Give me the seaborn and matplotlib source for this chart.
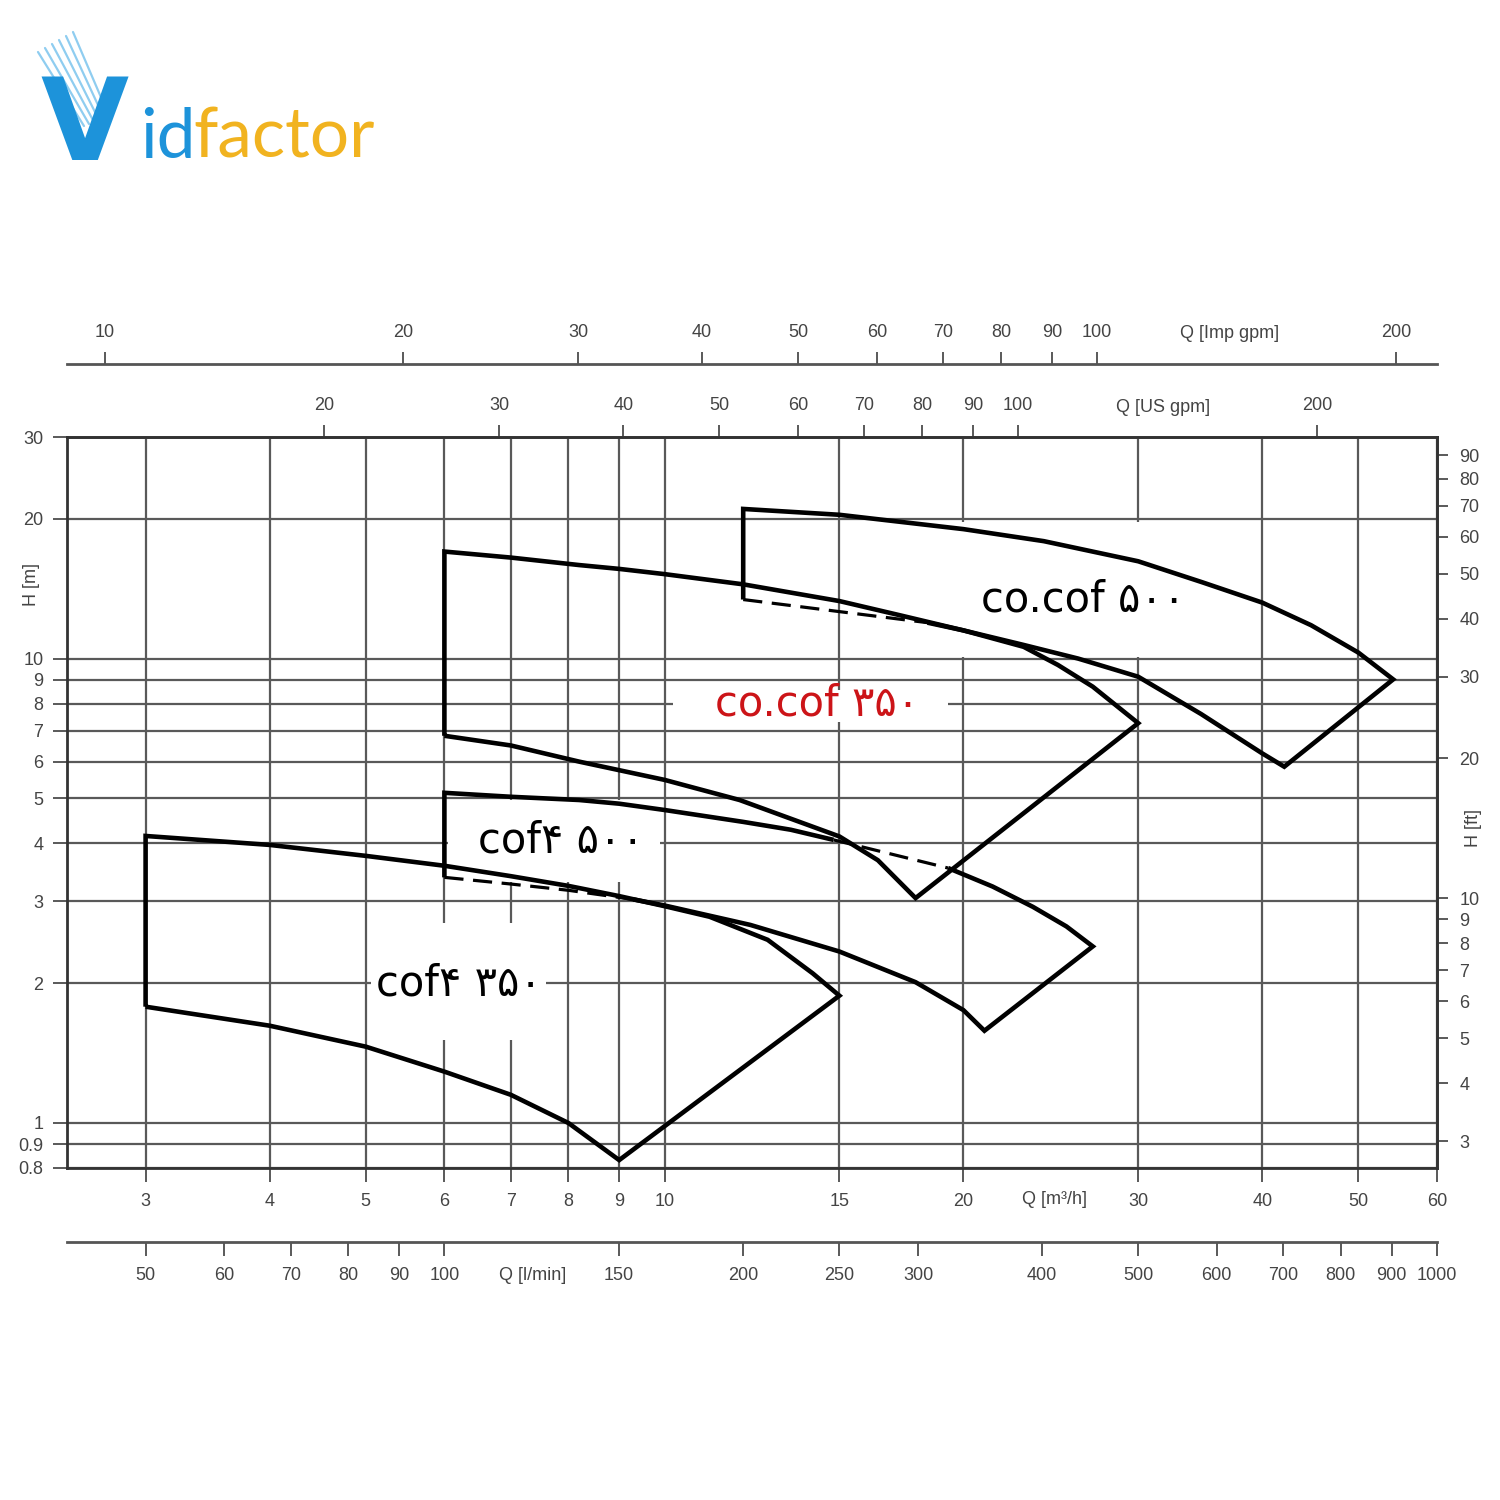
import matplotlib
matplotlib.use('Agg')
import numpy as np
import pandas as pd
import matplotlib.pyplot as plt
import seaborn as sns
from matplotlib.patches import Rectangle
from matplotlib.ticker import NullLocator
from matplotlib.lines import Line2D

# ---------------- data ----------------
q_m3h_ticks = [3, 4, 5, 6, 7, 8, 9, 10, 15, 20, 30, 40, 50, 60]
h_m_ticks = [0.8, 0.9, 1, 2, 3, 4, 5, 6, 7, 8, 9, 10, 20, 30]
h_m_labels = ['0.8', '0.9', '1', '2', '3', '4', '5', '6', '7', '8', '9', '10', '20', '30']
h_ft_ticks = [3, 4, 5, 6, 7, 8, 9, 10, 20, 30, 40, 50, 60, 70, 80, 90]
q_usgpm_ticks = [20, 30, 40, 50, 60, 70, 80, 90, 100, 200]
q_impgpm_ticks = [10, 20, 30, 40, 50, 60, 70, 80, 90, 100, 200]
q_lmin_ticks = [50, 60, 70, 80, 90, 100, 150, 200, 250, 300, 400, 500, 600, 700, 800, 900, 1000]

# cof4 350
c4_350_top_q = [3, 4, 5, 6, 7, 8, 9, 10, 11.1, 12.7, 14.1, 15]
c4_350_top_h = [4.15, 3.97, 3.76, 3.58, 3.40, 3.24, 3.08, 2.93, 2.78, 2.48, 2.10, 1.88]
c4_350_bot_q = [3, 4, 5, 6, 7, 8, 9]
c4_350_bot_h = [1.78, 1.62, 1.46, 1.29, 1.15, 1.00, 0.832]

# cof4 500
c4_500_top_q = [6, 7, 8.2, 9, 10, 12, 13.4, 14.8]
c4_500_top_h = [5.14, 5.04, 4.96, 4.87, 4.72, 4.45, 4.28, 4.07]
c4_500_topdash_q = [14.8, 19.3]
c4_500_topdash_h = [4.07, 3.54]
c4_500_top2_q = [19.3, 21.4, 23.5, 25.4, 27.0]
c4_500_top2_h = [3.54, 3.23, 2.92, 2.65, 2.40]
c4_500_botdash_q = [6, 7, 8, 9.3]
c4_500_botdash_h = [3.38, 3.27, 3.17, 3.03]
c4_500_bot_q = [9.3, 10, 12.2, 15, 17.9, 20, 21.0]
c4_500_bot_h = [3.03, 2.94, 2.67, 2.34, 2.01, 1.75, 1.58]

# co.cof 350
cc_350_top_q = [6, 7, 8.2, 9, 10, 12, 15, 17.25, 20, 23, 24.9, 27, 30]
cc_350_top_h = [17.0, 16.5, 15.9, 15.6, 15.2, 14.45, 13.3, 12.4, 11.5, 10.6, 9.69, 8.70, 7.26]
cc_350_bot_q = [6, 7, 8.2, 10, 11.9, 15, 16.4, 17.9]
cc_350_bot_h = [6.82, 6.5, 6.0, 5.48, 4.96, 4.14, 3.68, 3.05]

# co.cof 500
cc_500_top_q = [12, 15, 20, 24.1, 30, 34.8, 40, 44.8, 50, 54.2]
cc_500_top_h = [21.0, 20.4, 19.0, 17.9, 16.2, 14.6, 13.2, 11.8, 10.3, 9.02]
cc_500_botdash_q = [12, 18.4]
cc_500_botdash_h = [13.4, 11.95]
cc_500_bot_q = [18.4, 20, 23, 26.1, 30, 34.7, 40, 42.1]
cc_500_bot_h = [11.95, 11.5, 10.7, 10.0, 9.14, 7.6, 6.25, 5.85]

labels_text = ['co.cof ۵۰۰', 'co.cof ۳۵۰', 'cof۴ ۵۰۰', 'cof۴ ۳۵۰']
labels_q = [26.4, 14.24, 7.87, 6.2]
labels_h = [13.4, 8.0, 4.05, 2.0]
labels_color = ['black', '#cc1418', 'black', 'black']

M3H_TO_USGPM = 4.40287
M3H_TO_IMPGPM = 3.66615
M3H_TO_LMIN = 16.6667
M_TO_FT = 3.28084

# ---------------- style ----------------
sns.set_theme(style='ticks')
plt.rcParams['font.family'] = ['Liberation Sans', 'DejaVu Sans']

W = H_PX = 1500.0
def fx(px):
    return px / W
def fy(py):
    return 1 - py / H_PX

fig = plt.figure(figsize=(15, 15), dpi=100)
fig.patch.set_facecolor('white')
ax = fig.add_axes([fx(67), fy(1168), 1370 / W, 731 / H_PX])
ax.set_facecolor('white')
ax.set_xscale('log')
ax.set_yscale('log')
ax.set_xlim(2.5, 60)
ax.set_ylim(0.8, 30)

GRID = '#595959'
TXT = '#444444'
ax.set_xticks(q_m3h_ticks, labels=[str(v) for v in q_m3h_ticks])
ax.set_yticks(h_m_ticks, labels=h_m_labels)
ax.xaxis.set_minor_locator(NullLocator())
ax.yaxis.set_minor_locator(NullLocator())
ax.grid(True, which='major', color=GRID, linewidth=1.6)
ax.set_axisbelow(True)
ax.tick_params(axis='x', which='major', direction='out', length=10, width=1.4,
               color=GRID, labelsize=13, labelcolor=TXT, pad=8, top=False)
ax.tick_params(axis='y', which='major', direction='out', length=10, width=1.4,
               color=GRID, labelsize=13, labelcolor=TXT, pad=7, right=False)
for s in ax.spines.values():
    s.set_color('#333333')
    s.set_linewidth(2)

# white boxes behind labels (erased grid areas)
boxes = [((19.7, 10.1), (34.0, 19.7)),
         ((10.2, 7.3), (19.3, 8.56)),
         ((6.05, 3.3), (9.9, 4.97)),
         ((5.06, 1.51), (7.59, 2.70))]
for (q0, h0), (q1, h1) in boxes:
    ax.add_patch(Rectangle((q0, h0), q1 - q0, h1 - h0, facecolor='white',
                           edgecolor='none', zorder=1))


def draw(q, h, dashed=False):
    df = pd.DataFrame({'Q': q, 'H': h})
    if dashed:
        sns.lineplot(data=df, x='Q', y='H', ax=ax, color='black', linewidth=2.3,
                     linestyle=(0, (6, 3)), sort=False, estimator=None,
                     legend=False, zorder=3)
    else:
        sns.lineplot(data=df, x='Q', y='H', ax=ax, color='black', linewidth=3.3,
                     sort=False, estimator=None, legend=False, zorder=3,
                     solid_joinstyle='miter', solid_capstyle='butt')

# cof4 350: closed outline
draw([c4_350_bot_q[0]] + c4_350_top_q + c4_350_bot_q[::-1],
     [c4_350_bot_h[0]] + c4_350_top_h + c4_350_bot_h[::-1])

# cof4 500
draw([c4_500_botdash_q[0]] + c4_500_top_q, [c4_500_botdash_h[0]] + c4_500_top_h)
draw(c4_500_topdash_q, c4_500_topdash_h, dashed=True)
draw(c4_500_top2_q + c4_500_bot_q[::-1], c4_500_top2_h + c4_500_bot_h[::-1])
draw(c4_500_botdash_q, c4_500_botdash_h, dashed=True)

# co.cof 350
draw([cc_350_bot_q[0]] + cc_350_top_q + cc_350_bot_q[::-1],
     [cc_350_bot_h[0]] + cc_350_top_h + cc_350_bot_h[::-1])

# co.cof 500
draw([cc_500_botdash_q[0]] + cc_500_top_q + cc_500_bot_q[::-1],
     [cc_500_botdash_h[0]] + cc_500_top_h + cc_500_bot_h[::-1])
draw(cc_500_botdash_q, cc_500_botdash_h, dashed=True)

ax.set_xlabel('')
ax.set_ylabel('')

for t, q, h, c in zip(labels_text, labels_q, labels_h, labels_color):
    ax.text(q, h, t, color=c, fontsize=30, ha='center', va='center',
            family=['Liberation Sans Narrow', 'DejaVu Sans'], zorder=5)

ax.set_xlim(2.5, 60)
ax.set_ylim(0.8, 30)

# ---------------- secondary axes ----------------
def style_sec(sa, which, ticks, length, pad):
    if which == 'x':
        sa.set_xticks(ticks, labels=[str(t) for t in ticks])
        sa.xaxis.set_minor_locator(NullLocator())
    else:
        sa.set_yticks(ticks, labels=[str(t) for t in ticks])
        sa.yaxis.set_minor_locator(NullLocator())
    sa.tick_params(which='major', direction='out', length=length, width=1.4,
                   color=GRID, labelsize=13, labelcolor=TXT, pad=pad)
    for s in sa.spines.values():
        s.set_color('#555555')
        s.set_linewidth(2)

sx_us = ax.secondary_xaxis('top', functions=(lambda q: q * M3H_TO_USGPM,
                                             lambda g: g / M3H_TO_USGPM))
style_sec(sx_us, 'x', q_usgpm_ticks, 8.5, 8)

sx_imp = ax.secondary_xaxis(804 / 731, functions=(lambda q: q * M3H_TO_IMPGPM,
                                                  lambda g: g / M3H_TO_IMPGPM))
style_sec(sx_imp, 'x', q_impgpm_ticks, 8.5, 8)

sx_lmin = ax.secondary_xaxis(-74 / 731, functions=(lambda q: q * M3H_TO_LMIN,
                                                   lambda g: g / M3H_TO_LMIN))
style_sec(sx_lmin, 'x', q_lmin_ticks, 10, 8)

sy_ft = ax.secondary_yaxis('right', functions=(lambda h: h * M_TO_FT,
                                               lambda f: f / M_TO_FT))
style_sec(sy_ft, 'y', h_ft_ticks, 8, 8)

# axis names
fig.text(fx(1163), fy(407), 'Q [US gpm]', ha='center', va='center', fontsize=13, color=TXT)
fig.text(fx(1230), fy(333), 'Q [Imp gpm]', ha='center', va='center', fontsize=13, color=TXT)
fig.text(fx(1055), fy(1200), 'Q [m³/h]', ha='center', va='center', fontsize=13, color=TXT)
fig.text(fx(533), fy(1276), 'Q [l/min]', ha='center', va='center', fontsize=13, color=TXT)
fig.text(fx(32), fy(585), 'H [m]', ha='center', va='center', fontsize=13, color=TXT, rotation=90)
fig.text(fx(1474), fy(828), 'H [ft]', ha='center', va='center', fontsize=13, color=TXT, rotation=90)

# ---------------- logo ----------------
BLUE = '#1d93da'
GOLD = '#f1b320'
for i in range(6):
    x0, y0 = 38 + 7 * i, 52 - 4 * i
    x1, y1 = 84 + 5 * i, 126 - 2 * i
    fig.add_artist(Line2D([fx(x0), fx(x1)], [fy(y0), fy(y1)], color='#8fcdf0',
                          linewidth=1.6, transform=fig.transFigure))
fig.text(fx(40), fy(160), 'V', color=BLUE, fontsize=82, fontweight='bold',
         family='DejaVu Sans', ha='left', va='baseline')
fig.text(fx(140), fy(158), 'id', color=BLUE, fontsize=50, family='Lato',
         ha='left', va='baseline')
fig.text(fx(193), fy(158), 'factor', color=GOLD, fontsize=50, family='Lato',
         ha='left', va='baseline')

fig.savefig('out.png', dpi=100, facecolor='white')
